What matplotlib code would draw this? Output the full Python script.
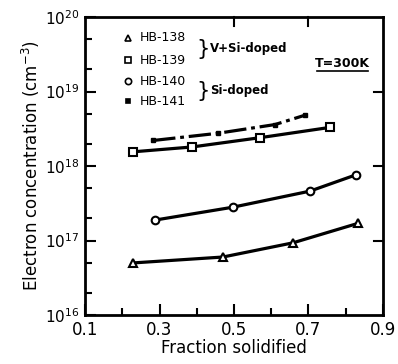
import matplotlib
matplotlib.use("Agg")
import matplotlib.pyplot as plt
from matplotlib.ticker import FixedLocator, NullFormatter
from matplotlib.transforms import blended_transform_factory

x138 = [0.229, 0.470, 0.658, 0.833]
y138 = [5.0e16, 6.0e16, 9.3e16, 1.7e17]
x139 = [0.229, 0.387, 0.570, 0.758]
y139 = [1.55e18, 1.8e18, 2.4e18, 3.3e18]
x140 = [0.288, 0.497, 0.704, 0.827]
y140 = [1.88e17, 2.8e17, 4.6e17, 7.6e17]
x141 = [0.283, 0.457, 0.610, 0.690]
y141 = [2.2e18, 2.75e18, 3.6e18, 4.8e18]

xticks = [0.1, 0.3, 0.5, 0.7, 0.9]
xlabels = ["0.1", "0.3", "0.5", "0.7", "0.9"]
yticks = [1e16, 1e17, 1e18, 1e19, 1e20]
ylabels = [r"$10^{16}$", r"$10^{17}$", r"$10^{18}$", r"$10^{19}$", r"$10^{20}$"]
labels = ["HB-138", "HB-139", "HB-140", "HB-141"]

plt.rcParams['font.family'] = ['DejaVu Sans']
plt.rcParams['mathtext.fontset'] = 'dejavusans'

fig = plt.figure(figsize=(3.98, 3.64), dpi=100)
ax = fig.add_axes([0.2136, 0.1346, 0.7487, 0.8187])
lw = 2.3
ax.plot(x138, y138, color='black', lw=lw, marker='^', ms=6, mfc='white', mec='black', mew=1.5)
ax.plot(x139, y139, color='black', lw=lw, marker='s', ms=6, mfc='white', mec='black', mew=1.5)
ax.plot(x140, y140, color='black', lw=lw, marker='o', ms=5.5, mfc='white', mec='black', mew=1.5)
ax.plot(x141, y141, color='black', lw=lw, marker='s', ms=3, mfc='black', mec='black',
        dashes=(7, 1.5, 1.2, 1.5))

ax.set_yscale('log')
ax.set_xlim(0.1, 0.9)
ax.set_ylim(1e16, 1e20)
ax.set_xticks(xticks)
ax.set_xticklabels(xlabels, fontsize=12)
ax.set_yticks(yticks)
ax.set_yticklabels(ylabels, fontsize=11)
ax.xaxis.set_minor_locator(FixedLocator([0.2, 0.4, 0.6, 0.8]))
ax.yaxis.set_minor_locator(FixedLocator([d * m for d in [1e16, 1e17, 1e18, 1e19] for m in (2, 5)]))
ax.yaxis.set_minor_formatter(NullFormatter())
ax.tick_params(which='major', direction='in', length=8, width=1.5, top=False, right=False, pad=4)
ax.tick_params(which='minor', direction='in', length=5, width=1.5, top=False, right=False)
for s in ax.spines.values():
    s.set_linewidth(2)

# right / top major ticks
tr_r = blended_transform_factory(ax.transAxes, ax.transData)
for yv in [1e17, 1e18, 1e19]:
    ax.plot([1.0, 0.97], [yv, yv], color='black', lw=1.5, transform=tr_r, clip_on=False)
tr = blended_transform_factory(ax.transData, ax.transAxes)
for xv in [0.5, 0.7]:
    ax.plot([xv, xv], [1.0, 0.97], color='black', lw=1.5, transform=tr, clip_on=False)

ax.set_xlabel("Fraction solidified", fontsize=12, labelpad=0)
ax.set_ylabel("Electron concentration (cm$^{-3}$)", fontsize=12, labelpad=2)

# legend
ta = ax.transAxes
rows = [0.93, 0.855, 0.785, 0.718]
mk = [('^', 'white', 4.5), ('s', 'white', 4.5), ('o', 'white', 4.5), ('s', 'black', 3)]
for r, (m, fc, ms), lab in zip(rows, mk, labels):
    ax.plot([0.145], [r], marker=m, ms=ms, mfc=fc, mec='black', mew=1.2,
            transform=ta, clip_on=False, ls='none')
    ax.text(0.185, r, lab, transform=ta, fontsize=9, va='center', ha='left')
ax.text(0.375, 0.893, "}", transform=ta, fontsize=15, va='center', ha='left')
ax.text(0.42, 0.893, "V+Si-doped", transform=ta, fontsize=8.5, va='center', ha='left', weight='bold')
ax.text(0.375, 0.752, "}", transform=ta, fontsize=15, va='center', ha='left')
ax.text(0.42, 0.752, "Si-doped", transform=ta, fontsize=8.5, va='center', ha='left', weight='bold')
ax.text(0.865, 0.845, "T=300K", transform=ta, fontsize=9, va='center', ha='center', weight='bold')
ax.plot([0.78, 0.95], [0.82, 0.82], color='black', lw=1.2, transform=ta)

fig.savefig("out.png", dpi=100)
